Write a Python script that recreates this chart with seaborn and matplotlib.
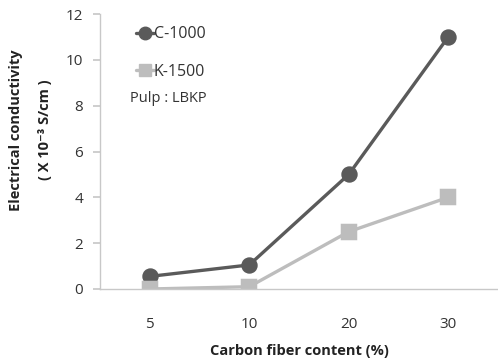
import matplotlib
matplotlib.use("Agg")
import matplotlib.pyplot as plt
import seaborn as sns
import pandas as pd
from matplotlib.lines import Line2D

categories = ["5", "10", "20", "30"]
c1000 = [0.55, 1.05, 5.0, 11.0]
k1500 = [0.0, 0.1, 2.5, 4.0]
series_names = ["C-1000", "K-1500"]
yticks = [0, 2, 4, 6, 8, 10, 12]

sns.set_theme(style="white")
plt.rcParams['font.family'] = ['Open Sans', 'DejaVu Sans']

dark = "#5a5a5a"
light = "#bdbdbd"
txt = "#333333"

df = pd.DataFrame({
    "content": categories * 2,
    "value": c1000 + k1500,
    "series": [series_names[0]] * 4 + [series_names[1]] * 4,
})

fig = plt.figure(figsize=(4.98, 3.61), dpi=100)
ax = fig.add_axes([100/498, 1 - 289/361, 398/498, 275/361])

sns.pointplot(data=df, x="content", y="value", hue="series", order=categories,
              hue_order=series_names, palette=[dark, light], markers=["o", "s"],
              errorbar=None, markersize=10, linewidth=2.4, ax=ax, legend=False)

ax.set_xlim(-0.5, 3.5)
ax.set_ylim(0, 12)
ax.set_yticks(yticks)
ax.set_yticklabels([str(t) for t in yticks])
for s in ["top", "right"]:
    ax.spines[s].set_visible(False)
for s in ["left", "bottom"]:
    ax.spines[s].set_color("#c8c8c8")
    ax.spines[s].set_linewidth(1.0)
ax.tick_params(axis="y", which="major", left=True, length=5, color="#c8c8c8",
               labelsize=11, labelcolor=txt, pad=7)
ax.tick_params(axis="x", bottom=False, labelsize=11, labelcolor=txt, pad=14)
ax.set_xlabel("Carbon fiber content (%)", fontsize=10.5, fontweight="bold", color="#222222", labelpad=9)
ax.set_ylabel("")
ax.grid(False)

fig.text(16/498, 1 - 130/361, "Electrical conductivity", rotation=90, ha="center", va="center",
         fontsize=10.5, fontweight="bold", color="#222222")
fig.text(45/498, 1 - 130/361, "( X 10⁻³ S/cm )", rotation=90, ha="center", va="center",
         fontsize=10.5, fontweight="bold", color="#222222")

handles = [Line2D([], [], color=dark, marker="o", markersize=9, linewidth=2.4),
           Line2D([], [], color=light, marker="s", markersize=8, linewidth=2.4)]
leg = ax.legend(handles, series_names, loc="upper left", bbox_to_anchor=(0.055, 1.008),
                frameon=False, handlelength=1.1, handletextpad=0.0, labelspacing=1.35,
                fontsize=11.5, labelcolor=txt)
fig.text(130/498, 1 - 98/361, "Pulp : LBKP", ha="left", va="center", fontsize=10.5, color=txt)

fig.savefig("out.png", dpi=100)
